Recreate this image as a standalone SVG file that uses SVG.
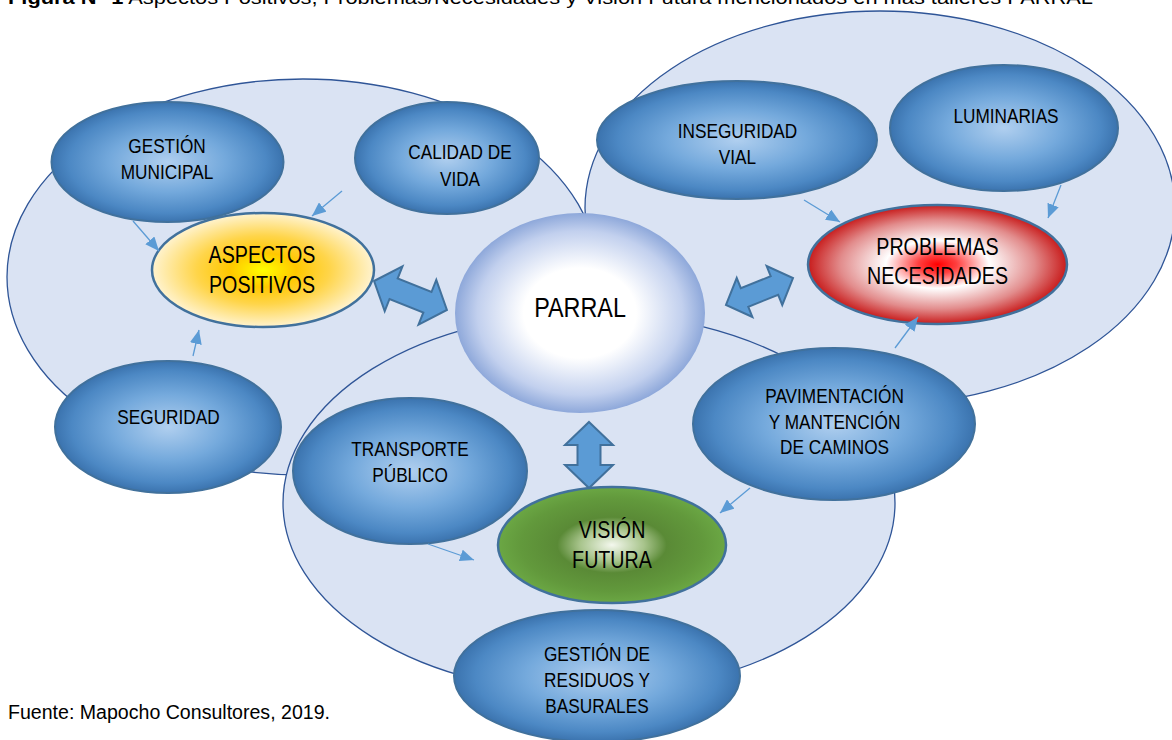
<svg xmlns="http://www.w3.org/2000/svg" width="1172" height="740" viewBox="0 0 1172 740">
<style>
text{font-family:"Liberation Sans",Arial,sans-serif;fill:#000;text-anchor:middle}
.bg{fill:#dae3f3;stroke:#2f5597;stroke-width:1.3}
.blue{fill:url(#gBlue);stroke:#41719c;stroke-width:2}
.t{font-size:21px}
.tb{font-size:24px}
.conn{stroke:#5b9bd5;stroke-width:1.3;fill:none;marker-end:url(#ah)}
.dbl{fill:#5b9bd5;stroke:#41719c;stroke-width:2;stroke-linejoin:miter}
</style>
<defs>
<radialGradient id="gBlue" cx="50%" cy="50%" r="50%">
<stop offset="0" stop-color="#b0cfef"/>
<stop offset="0.5" stop-color="#74a9dc"/>
<stop offset="0.85" stop-color="#4c88c4"/>
<stop offset="1" stop-color="#3b73ae"/>
</radialGradient>
<radialGradient id="gYel" cx="50%" cy="50%" r="50%">
<stop offset="0" stop-color="#ffff00"/>
<stop offset="0.3" stop-color="#ffc800"/>
<stop offset="0.6" stop-color="#ffd54a"/>
<stop offset="1" stop-color="#fff3cf"/>
</radialGradient>
<radialGradient id="gPar" cx="50%" cy="50%" r="50%">
<stop offset="0" stop-color="#ffffff"/>
<stop offset="0.45" stop-color="#ffffff"/>
<stop offset="0.82" stop-color="#c2d0ee"/>
<stop offset="1" stop-color="#8ea8da"/>
</radialGradient>
<radialGradient id="gRed" cx="50%" cy="50%" r="50%">
<stop offset="0" stop-color="#ff0000"/>
<stop offset="0.15" stop-color="#ff4040"/>
<stop offset="0.4" stop-color="#ffffff"/>
<stop offset="0.75" stop-color="#e28c8c"/>
<stop offset="1" stop-color="#c81c1c"/>
</radialGradient>
<radialGradient id="gGrn" cx="50%" cy="50%" r="50%">
<stop offset="0" stop-color="#f4f8ee"/>
<stop offset="0.28" stop-color="#a8c48c"/>
<stop offset="0.48" stop-color="#5a8a36"/>
<stop offset="0.8" stop-color="#62993c"/>
<stop offset="1" stop-color="#6ba744"/>
</radialGradient>
<marker id="ah" markerUnits="userSpaceOnUse" viewBox="0 0 14 12" refX="14" refY="6" markerWidth="14" markerHeight="12" orient="auto">
<path d="M0,0 L14,6 L0,12 z" fill="#5b9bd5"/>
</marker>
</defs>

<text x="8" y="4" style="font-size:19px;text-anchor:start" textLength="1085" lengthAdjust="spacingAndGlyphs"><tspan font-weight="bold">Figura N° 1</tspan> Aspectos Positivos, Problemas/Necesidades y Visión Futura mencionados en más talleres PARRAL</text>

<g id="backgrounds">
<ellipse class="bg" cx="303" cy="277" rx="296" ry="198"/>
<ellipse class="bg" cx="880" cy="208" rx="295" ry="197"/>
<ellipse class="bg" cx="589" cy="503" rx="306" ry="190"/>
</g>

<g id="n-gestion-municipal"><ellipse class="blue" cx="167.5" cy="162" rx="116" ry="60"/><text class="t" transform="translate(167,153) scale(0.82,1)">GESTIÓN</text><text class="t" transform="translate(167,179) scale(0.82,1)">MUNICIPAL</text></g>
<g id="n-calidad"><ellipse class="blue" cx="447" cy="158" rx="92" ry="56"/><text class="t" transform="translate(460,158.5) scale(0.82,1)">CALIDAD DE</text><text class="t" transform="translate(460,185.5) scale(0.82,1)">VIDA</text></g>
<g id="n-inseguridad"><ellipse class="blue" cx="737" cy="140" rx="140" ry="59"/><text class="t" transform="translate(737.5,137.5) scale(0.82,1)">INSEGURIDAD</text><text class="t" transform="translate(737.5,163.5) scale(0.82,1)">VIAL</text></g>
<g id="n-luminarias"><ellipse class="blue" cx="1004" cy="128" rx="114" ry="63"/><text class="t" transform="translate(1006,122.5) scale(0.82,1)">LUMINARIAS</text></g>
<g id="n-seguridad"><ellipse class="blue" cx="168" cy="427" rx="113" ry="66"/><text class="t" transform="translate(168.5,423.5) scale(0.82,1)">SEGURIDAD</text></g>
<g id="n-transporte"><ellipse class="blue" cx="410" cy="471" rx="117" ry="73"/><text class="t" transform="translate(410,455.5) scale(0.82,1)">TRANSPORTE</text><text class="t" transform="translate(410,481.5) scale(0.82,1)">PÚBLICO</text></g>
<g id="n-pavimentacion"><ellipse class="blue" cx="834" cy="424" rx="141" ry="76"/><text class="t" transform="translate(834.5,402.5) scale(0.82,1)">PAVIMENTACIÓN</text><text class="t" transform="translate(834.5,428.5) scale(0.82,1)">Y MANTENCIÓN</text><text class="t" transform="translate(834.5,453.5) scale(0.82,1)">DE CAMINOS</text></g>
<g id="n-residuos"><ellipse class="blue" cx="597" cy="676" rx="143" ry="66"/><text class="t" transform="translate(597,660.5) scale(0.82,1)">GESTIÓN DE</text><text class="t" transform="translate(597,686.5) scale(0.82,1)">RESIDUOS Y</text><text class="t" transform="translate(597,712.5) scale(0.82,1)">BASURALES</text></g>

<g id="n-aspectos"><ellipse cx="263" cy="270" rx="111" ry="57" fill="url(#gYel)" stroke="#41719c" stroke-width="2.5"/><text class="tb" transform="translate(262,263) scale(0.82,1)">ASPECTOS</text><text class="tb" transform="translate(262,293) scale(0.82,1)">POSITIVOS</text></g>
<g id="n-parral"><ellipse cx="580" cy="313" rx="125" ry="100" fill="url(#gPar)"/><text style="font-size:28.5px" transform="translate(580,317) scale(0.82,1)">PARRAL</text></g>
<g id="n-problemas"><ellipse cx="937.5" cy="264.5" rx="129.5" ry="59.5" fill="url(#gRed)" stroke="#41719c" stroke-width="2.5"/><text class="tb" transform="translate(937.5,255) scale(0.82,1)">PROBLEMAS</text><text class="tb" transform="translate(937.5,284) scale(0.82,1)">NECESIDADES</text></g>
<g id="n-vision"><ellipse cx="612" cy="545" rx="114" ry="58" fill="url(#gGrn)" stroke="#41719c" stroke-width="2.5"/><text class="tb" transform="translate(612,538) scale(0.82,1)">VISIÓN</text><text class="tb" transform="translate(612,568) scale(0.82,1)">FUTURA</text></g>

<g id="connectors">
<line class="conn" x1="133" y1="221" x2="159" y2="251"/>
<line class="conn" x1="342" y1="191" x2="312" y2="216"/>
<line class="conn" x1="193" y1="356" x2="199" y2="330"/>
<line class="conn" x1="804" y1="200" x2="840" y2="222"/>
<line class="conn" x1="1061" y1="185" x2="1048" y2="218"/>
<line class="conn" x1="895" y1="348" x2="918" y2="317"/>
<line class="conn" x1="750" y1="488" x2="720" y2="513"/>
<line class="conn" x1="428" y1="544" x2="474" y2="560"/>
<path class="dbl" transform="translate(410.5,295.5) rotate(21.7)" d="M-39.2,0 L-18.2,-24 L-18.2,-11 L18.2,-11 L18.2,-24 L39.2,0 L18.2,24 L18.2,11 L-18.2,11 L-18.2,24 Z"/>
<path class="dbl" transform="translate(759.5,291.5) rotate(-21.9)" d="M-36.1,0 L-16.1,-21 L-16.1,-10 L16.1,-10 L16.1,-21 L36.1,0 L16.1,21 L16.1,10 L-16.1,10 L-16.1,21 Z"/>
<path class="dbl" transform="translate(589,455) rotate(90)" d="M-33,0 L-10,-24 L-10,-11.5 L10,-11.5 L10,-24 L33,0 L10,24 L10,11.5 L-10,11.5 L-10,24 Z"/>
</g>

<text x="8" y="719" style="font-size:19.5px;text-anchor:start" textLength="322" lengthAdjust="spacingAndGlyphs">Fuente: Mapocho Consultores, 2019.</text>
</svg>
